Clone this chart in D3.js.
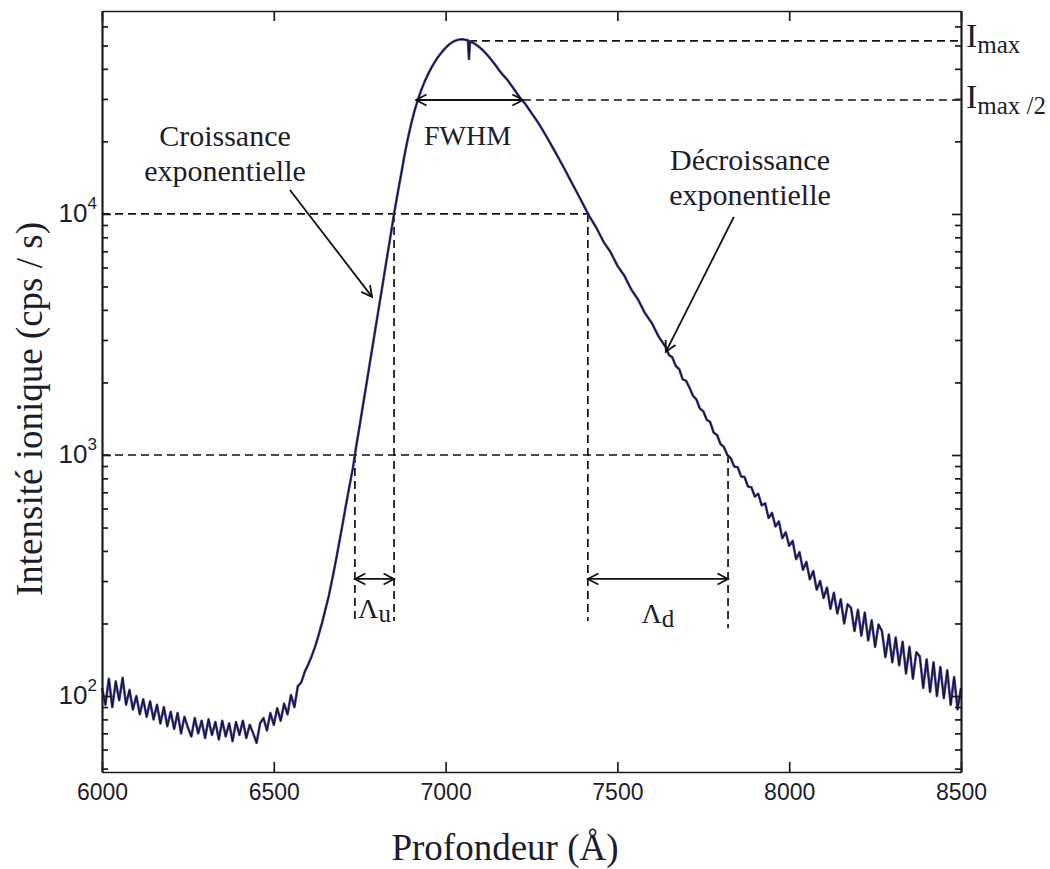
<!DOCTYPE html>
<html>
<head>
<meta charset="utf-8">
<script src="https://cdn.jsdelivr.net/npm/d3@7"></script>
<style>
  body { margin: 0; background: #fff; }
  .axis path, .axis line { stroke: #1a1a1a; stroke-width: 1.7; }
  .axis text { font-family: "Liberation Sans", Arial, sans-serif; font-size: 23px; fill: #1c1c2c; }
  .serif { font-family: "Liberation Serif", "Times New Roman", serif; fill: #1c1c2c; }
</style>
</head>
<body>
<div id="chart"></div>
<script>
// depth profile: depth (Å) and ionic intensity (cps / s)
const depth = [
  6000, 6010, 6020, 6030, 6040, 6050, 6060, 6070, 6080, 6090,
  6100, 6110, 6120, 6130, 6140, 6150, 6160, 6170, 6180, 6190,
  6200, 6210, 6220, 6230, 6240, 6250, 6260, 6270, 6280, 6290,
  6300, 6310, 6320, 6330, 6340, 6350, 6360, 6370, 6380, 6390,
  6400, 6410, 6420, 6430, 6440, 6450, 6460, 6470, 6480, 6490,
  6500, 6510, 6520, 6530, 6540, 6550, 6560, 6570, 6580, 6590,
  6600, 6610, 6620, 6630, 6640, 6650, 6660, 6670, 6680, 6690,
  6700, 6710, 6720, 6730, 6740, 6750, 6760, 6770, 6780, 6790,
  6800, 6810, 6820, 6830, 6840, 6850, 6860, 6870, 6880, 6890,
  6900, 6910, 6920, 6930, 6940, 6950, 6960, 6970, 6980, 6990,
  7000, 7010, 7020, 7030, 7040, 7050, 7060, 7065, 7068, 7071,
  7080, 7090, 7100, 7110, 7120, 7130, 7140, 7150, 7160, 7170,
  7180, 7190, 7200, 7210, 7220, 7230, 7240, 7250, 7260, 7270,
  7280, 7290, 7300, 7310, 7320, 7330, 7340, 7350, 7360, 7370,
  7380, 7390, 7400, 7410, 7420, 7440, 7460, 7480, 7500, 7520,
  7540, 7560, 7580, 7600, 7620, 7640, 7650, 7660, 7670, 7680,
  7690, 7700, 7710, 7720, 7730, 7740, 7750, 7760, 7770, 7780,
  7790, 7800, 7810, 7820, 7830, 7840, 7850, 7860, 7870, 7880,
  7890, 7900, 7910, 7920, 7930, 7940, 7950, 7960, 7970, 7980,
  7990, 8000, 8010, 8020, 8030, 8040, 8050, 8060, 8070, 8080,
  8090, 8100, 8110, 8120, 8130, 8140, 8150, 8160, 8170, 8180,
  8190, 8200, 8210, 8220, 8230, 8240, 8250, 8260, 8270, 8280,
  8290, 8300, 8310, 8320, 8330, 8340, 8350, 8360, 8370, 8380,
  8390, 8400, 8410, 8420, 8430, 8440, 8450, 8460, 8470, 8480,
  8490, 8500
];
const intensity = [
  108, 92, 118, 90, 115, 96, 119, 92, 106, 88,
  100, 84, 97, 82, 95, 80, 92, 77, 90, 75,
  86, 73, 85, 70, 82, 74, 68, 81, 70, 79,
  67, 80, 69, 78, 66, 79, 68, 77, 65, 78,
  69, 79, 67, 76, 70, 64, 77, 81, 72, 85,
  76, 89, 79, 93, 84, 101, 90, 110, 114, 126,
  135, 146, 160, 178, 200, 228, 260, 305, 360, 430,
  515, 620, 740, 880, 1090, 1326, 1623, 1986, 2430, 2973,
  3640, 4450, 5450, 6670, 8160, 10000, 12080, 14450, 17380, 20510,
  23710, 26920, 29990, 32890, 35650, 38280, 40740, 43050, 45190, 47100,
  48870, 50470, 51640, 52480, 52970, 53090, 52720, 52500, 44000, 51900,
  51290, 50230, 48980, 47530, 45920, 44160, 42360, 40550, 38730, 37300,
  35970, 34360, 32810, 31260, 29920, 28840, 27540, 26240, 25000, 23820,
  22590, 21380, 20180, 19050, 17990, 16940, 15960, 15000, 14090, 13240,
  12450, 11700, 10990, 10300, 9700, 8700, 7650, 6950, 6100, 5550,
  4870, 4420, 3880, 3530, 3100, 2810, 2600, 2540, 2340, 2270,
  2060, 2030, 1900, 1760, 1700, 1560, 1520, 1400, 1370, 1240,
  1210, 1110, 1080, 1000, 970, 895, 890, 815, 810, 740,
  735, 672, 690, 618, 630, 548, 575, 505, 530, 452,
  478, 420, 440, 370, 395, 334, 360, 305, 330, 276,
  300, 255, 282, 230, 268, 220, 252, 200, 240, 232,
  186, 228, 178, 222, 170, 206, 160, 198, 186, 145,
  180, 138, 175, 134, 168, 124, 160, 118, 152, 146,
  108, 142, 104, 138, 100, 132, 98, 128, 92, 120,
  88, 108
];

// axis ticks
const xTicks = [6000, 6500, 7000, 7500, 8000, 8500];
const yMajor = [100, 1000, 10000];
const yMinor = [50, 60, 70, 80, 90, 200, 300, 400, 500, 600, 700, 800, 900,
  2000, 3000, 4000, 5000, 6000, 7000, 8000, 9000, 20000, 30000, 40000, 50000, 60000];

// annotation values (data units)
const iMax = 52200, iMaxHalf = 29700;
const peakDepth = 7068;
const fwhmDepths = [6914, 7225];
const lambdaU = [6736, 6850];
const lambdaD = [7414, 7822];
const dropBottom = [205, 205, 205, 191];
const lambdaArrowLevel = 306;
const growthPointer = [[6547, 12570], [6786, 4530]];
const decayPointer = [[7839, 9720], [7641, 2680]];

const margin = { top: 11, right: 89, bottom: 97, left: 102 },
    width = 1050 - margin.left - margin.right,
    height = 869 - margin.top - margin.bottom;

const root = d3.select("#chart")
    .append("svg")
    .attr("width", 1050)
    .attr("height", 869);

root.append("defs").append("marker")
    .attr("id", "head")
    .attr("viewBox", "0 0 14 14")
    .attr("refX", 12.5).attr("refY", 7)
    .attr("markerWidth", 14).attr("markerHeight", 14)
    .attr("markerUnits", "userSpaceOnUse")
    .attr("orient", "auto-start-reverse")
    .append("path")
    .attr("d", "M2,1.5 L12.5,7 L2,12.5")
    .attr("fill", "none")
    .attr("stroke", "#111")
    .attr("stroke-width", 1.8);

const svg = root.append("g")
    .attr("transform", `translate(${margin.left},${margin.top})`);

const x = d3.scaleLinear().domain([6000, 8500]).range([0, width]);
const y = d3.scaleLog().domain([48.4, 69500]).range([height, 0]);

// dashed guides
const guides = [
  [[peakDepth, iMax], [8500, iMax]],
  [[fwhmDepths[1], iMaxHalf], [8500, iMaxHalf]],
  [[6000, 10000], [lambdaD[0], 10000]],
  [[6000, 1000], [lambdaD[1], 1000]],
  [[lambdaU[1], 10000], [lambdaU[1], dropBottom[1]]],
  [[lambdaU[0], 1000], [lambdaU[0], dropBottom[0]]],
  [[lambdaD[0], 10000], [lambdaD[0], dropBottom[2]]],
  [[lambdaD[1], 1000], [lambdaD[1], dropBottom[3]]]
];
svg.selectAll(".guide")
    .data(guides)
    .join("line")
    .attr("x1", d => x(d[0][0])).attr("y1", d => y(d[0][1]))
    .attr("x2", d => x(d[1][0])).attr("y2", d => y(d[1][1]))
    .attr("stroke", "#111")
    .attr("stroke-width", 1.7)
    .attr("stroke-dasharray", "8,5");

// profile
const points = d3.zip(depth, intensity);
const line = d3.line().x(d => x(d[0])).y(d => y(d[1]));
svg.append("path").datum(points)
    .attr("d", line).attr("fill", "none")
    .attr("stroke", "#4646a0").attr("stroke-width", 2.6)
    .attr("stroke-linejoin", "round");
svg.append("path").datum(points)
    .attr("d", line).attr("fill", "none")
    .attr("stroke", "#101028").attr("stroke-width", 1.1)
    .attr("stroke-linejoin", "round");

// axes (ticks pointing inward on all four sides)
svg.append("g").attr("class", "axis")
    .attr("transform", `translate(0,${height})`)
    .call(d3.axisBottom(x).tickValues(xTicks).tickSize(-10).tickSizeOuter(0)
      .tickPadding(12).tickFormat(d3.format("d")));
svg.append("g").attr("class", "axis")
    .call(d3.axisTop(x).tickValues(xTicks).tickSize(-10).tickSizeOuter(0).tickFormat(""));
svg.append("g").attr("class", "axis")
    .call(d3.axisLeft(y).tickValues(yMinor).tickSize(-6).tickSizeOuter(0).tickFormat(""));
svg.append("g").attr("class", "axis")
    .call(d3.axisLeft(y).tickValues(yMajor).tickSize(-9).tickSizeOuter(0).tickFormat(""));
svg.append("g").attr("class", "axis")
    .attr("transform", `translate(${width},0)`)
    .call(d3.axisRight(y).tickValues(yMinor).tickSize(-6).tickSizeOuter(0).tickFormat(""));
svg.append("g").attr("class", "axis")
    .attr("transform", `translate(${width},0)`)
    .call(d3.axisRight(y).tickValues(yMajor).tickSize(-9).tickSizeOuter(0).tickFormat(""));

svg.selectAll(".ylab")
    .data(yMajor)
    .join("text")
    .attr("class", "ylab")
    .attr("x", -5)
    .attr("y", d => y(d) + 8)
    .attr("text-anchor", "end")
    .style("font-family", "Liberation Sans, Arial, sans-serif")
    .style("font-size", "26px")
    .style("fill", "#1c1c2c")
    .each(function (d) {
      const t = d3.select(this);
      t.append("tspan").text("10");
      t.append("tspan").attr("dy", -13).style("font-size", "17px").text(Math.round(Math.log10(d)));
    });

// axis titles
svg.append("text").attr("class", "serif")
    .attr("x", 403).attr("y", height + 88)
    .attr("text-anchor", "middle")
    .style("font-size", "37px")
    .text("Profondeur (Å)");
svg.append("text").attr("class", "serif")
    .attr("transform", `translate(-60,${y(1000) - 46}) rotate(-90)`)
    .attr("text-anchor", "middle")
    .style("font-size", "37px")
    .text("Intensité ionique (cps / s)");

// double arrows
const spans = [
  [fwhmDepths, iMaxHalf],
  [lambdaU, lambdaArrowLevel],
  [lambdaD, lambdaArrowLevel]
];
svg.selectAll(".span")
    .data(spans)
    .join("line")
    .attr("x1", d => x(d[0][0])).attr("x2", d => x(d[0][1]))
    .attr("y1", d => y(d[1])).attr("y2", d => y(d[1]))
    .attr("stroke", "#111").attr("stroke-width", 1.8)
    .attr("marker-start", "url(#head)")
    .attr("marker-end", "url(#head)");

// pointers
svg.selectAll(".pointer")
    .data([growthPointer, decayPointer])
    .join("line")
    .attr("x1", d => x(d[0][0])).attr("y1", d => y(d[0][1]))
    .attr("x2", d => x(d[1][0])).attr("y2", d => y(d[1][1]))
    .attr("stroke", "#111").attr("stroke-width", 1.8)
    .attr("marker-end", "url(#head)");

// labels
function label(px, py, text, size) {
  return svg.append("text").attr("class", "serif")
      .attr("x", px).attr("y", py)
      .attr("text-anchor", "middle")
      .style("font-size", size + "px")
      .text(text);
}
label(x(6358), y(19140), "Croissance", 30);
label(x(6358), y(19140) + 35, "exponentielle", 30);
label(x(7886), y(15230), "Décroissance", 30);
label(x(7886), y(15230) + 35, "exponentielle", 30);
label(x(d3.mean(fwhmDepths)) - 2, y(iMaxHalf) + 45, "FWHM", 28);

function subLabel(px, py, main, sub, anchor) {
  const t = svg.append("text").attr("class", "serif")
      .attr("x", px).attr("y", py)
      .attr("text-anchor", anchor);
  t.append("tspan").style("font-size", anchor === "start" ? "34px" : "28px").text(main);
  t.append("tspan").attr("dy", anchor === "start" ? 6 : 4).style("font-size", "25px").text(sub);
  return t;
}
subLabel(width + 5, y(iMax) + 6, "I", "max", "start");
subLabel(width + 5, y(iMaxHalf) + 8, "I", "max /2", "start");
subLabel(x(d3.mean(lambdaU)), y(lambdaArrowLevel) + 39, "Λ", "u", "middle");
subLabel(x(d3.mean(lambdaD)), y(lambdaArrowLevel) + 44, "Λ", "d", "middle");
</script>
</body>
</html>
